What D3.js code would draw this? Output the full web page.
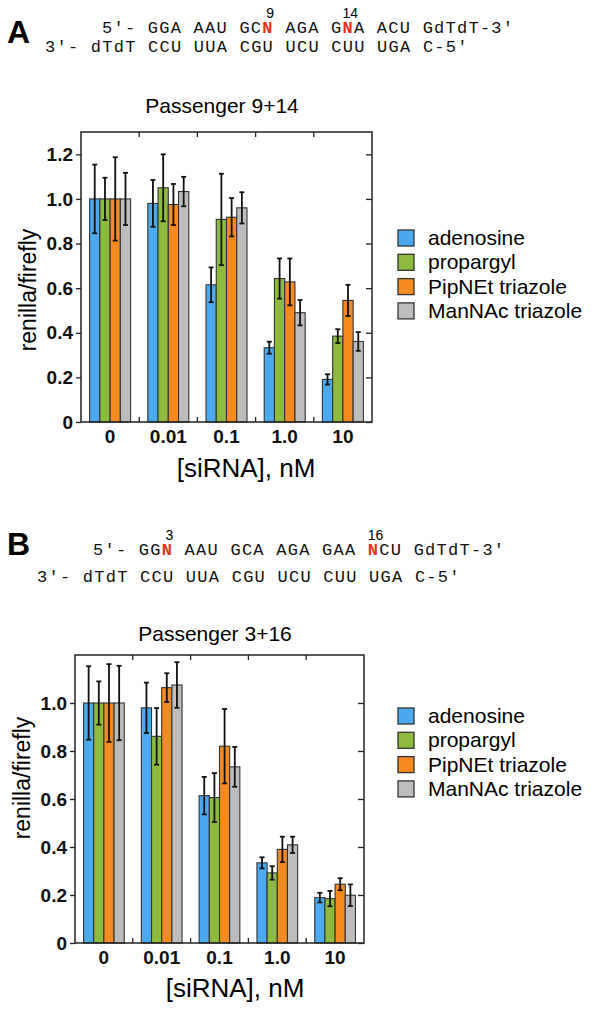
<!DOCTYPE html>
<html><head><meta charset="utf-8">
<script src="https://cdn.jsdelivr.net/npm/d3@7"></script>
<style>body{margin:0;background:#fff}svg{display:block}</style>
</head><body>
<svg id="c" width="596" height="1010"></svg>
<script>
const categories = ["0", "0.01", "0.1", "1.0", "10"];
const series = ["adenosine", "propargyl", "PipNEt triazole", "ManNAc triazole"];
const colors = ["#4ba9ef", "#8dbb3d", "#f58a20", "#bdbdbd"];

// Panel A: Passenger 9+14 (values per series, per category)
const valuesA = [
  [1.00, 0.98, 0.615, 0.333, 0.191],
  [1.00, 1.05, 0.908, 0.643, 0.385],
  [1.00, 0.975, 0.918, 0.628, 0.545],
  [1.00, 1.033, 0.960, 0.490, 0.361]
];
const errorsA = [
  [0.154, 0.105, 0.078, 0.027, 0.023],
  [0.095, 0.150, 0.205, 0.090, 0.031],
  [0.187, 0.092, 0.086, 0.105, 0.070],
  [0.117, 0.066, 0.070, 0.057, 0.042]
];
// Panel B: Passenger 3+16
const valuesB = [
  [1.00, 0.980, 0.614, 0.334, 0.189],
  [1.00, 0.861, 0.606, 0.292, 0.185],
  [1.00, 1.064, 0.820, 0.390, 0.245],
  [1.00, 1.075, 0.734, 0.409, 0.199]
];
const errorsB = [
  [0.153, 0.105, 0.078, 0.023, 0.020],
  [0.090, 0.118, 0.102, 0.028, 0.032],
  [0.162, 0.060, 0.155, 0.053, 0.025],
  [0.155, 0.095, 0.083, 0.034, 0.045]
];
const yTicksA = [0, 0.2, 0.4, 0.6, 0.8, 1.0, 1.2];
const yTicksB = [0, 0.2, 0.4, 0.6, 0.8, 1.0];

const svg = d3.select("#c");
const SANS = "'Liberation Sans', Arial, sans-serif";
const MONO = "'Liberation Mono', 'Courier New', monospace";
const CW = 11.45; // monospace advance per character

function seqLine(g, x, y, parts) {
  const t = g.append("text").attr("x", x).attr("y", y)
    .attr("font-family", MONO).attr("font-size", 17).attr("letter-spacing", CW - 17 * 0.6)
    .attr("fill", "#111").attr("xml:space", "preserve").style("white-space", "pre");
  parts.forEach(p => {
    const ts = t.append("tspan").text(p.t);
    if (p.red) ts.attr("fill", "#e5321d").attr("font-weight", "bold");
  });
  return t;
}

function drawPanel(o) {
  const g = svg.append("g");
  // panel letter
  g.append("text").attr("x", o.letterX).attr("y", o.letterY).text(o.letter)
    .attr("font-family", SANS).attr("font-weight", "bold").attr("font-size", 32);
  // sequences
  seqLine(g, o.seq1X, o.seq1Y, o.seq1);
  seqLine(g, o.seq2X, o.seq2Y, o.seq2);
  o.marks.forEach(m => {
    g.append("text").attr("x", o.seq1X + (m.idx + 0.5) * CW + 2).attr("y", o.seq1Y - 15)
      .attr("text-anchor", "middle").attr("font-family", SANS).attr("font-size", 14)
      .text(m.label);
  });
  const {L, T, R, B} = o.frame;
  const x = d3.scaleBand().domain(categories).range([L, R]).padding(0);
  const xs = d3.scaleBand().domain(series).range([0, x.bandwidth()]).paddingInner(0).paddingOuter(0.84);
  const y = d3.scaleLinear().domain(o.yDomain).range([B, T]);

  // title
  g.append("text").attr("x", o.titleX).attr("y", o.titleY).attr("text-anchor", "middle")
    .attr("font-family", SANS).attr("font-size", 21).text(o.title);

  // bars
  series.forEach((s, si) => {
    categories.forEach((c, ci) => {
      const v = o.values[si][ci];
      g.append("rect")
        .attr("x", x(c) + xs(s)).attr("y", y(v))
        .attr("width", xs.bandwidth()).attr("height", y(0) - y(v))
        .attr("fill", colors[si]).attr("stroke", "#333").attr("stroke-width", 1.1);
    });
  });
  // error bars
  series.forEach((s, si) => {
    categories.forEach((c, ci) => {
      const v = o.values[si][ci], e = o.errors[si][ci];
      const cx = x(c) + xs(s) + xs.bandwidth() / 2;
      const eg = g.append("g").attr("stroke", "#111").attr("stroke-width", 1.8);
      eg.append("line").attr("x1", cx).attr("x2", cx).attr("y1", y(v - e)).attr("y2", y(v + e));
      eg.append("line").attr("x1", cx - 2.5).attr("x2", cx + 2.5).attr("y1", y(v + e)).attr("y2", y(v + e));
      eg.append("line").attr("x1", cx - 2.5).attr("x2", cx + 2.5).attr("y1", y(v - e)).attr("y2", y(v - e));
    });
  });

  // frame
  g.append("rect").attr("x", L).attr("y", T).attr("width", R - L).attr("height", B - T)
    .attr("fill", "none").attr("stroke", "#222").attr("stroke-width", 1.5);

  // left axis (outward ticks)
  const ya = g.append("g").attr("transform", `translate(${L},0)`)
    .call(d3.axisLeft(y).tickValues(o.yTicks).tickSize(5).tickPadding(3)
      .tickFormat(d => d === 0 ? "0" : d3.format(".1f")(d)));
  ya.select(".domain").remove();
  ya.selectAll("line").attr("stroke", "#222").attr("stroke-width", 1.3);
  ya.selectAll("text").attr("font-family", SANS).attr("font-weight", "bold").attr("font-size", 19).attr("fill", "#111");
  // right axis (inward ticks)
  const yr = g.append("g").attr("transform", `translate(${R},0)`)
    .call(d3.axisLeft(y).tickValues(o.yTicks).tickSize(6).tickFormat(""));
  yr.select(".domain").remove();
  yr.selectAll("line").attr("stroke", "#222").attr("stroke-width", 1.3).attr("x2", -6).attr("x1", 0);

  // group boundary ticks, top & bottom, inward
  const bounds = categories.slice(1).map(c => x(c));
  bounds.forEach(bx => {
    g.append("line").attr("x1", bx).attr("x2", bx).attr("y1", T).attr("y2", T + 5).attr("stroke", "#222").attr("stroke-width", 1.3);
    g.append("line").attr("x1", bx).attr("x2", bx).attr("y1", B).attr("y2", B - 5).attr("stroke", "#222").attr("stroke-width", 1.3);
  });
  // bottom axis labels
  const xa = g.append("g").attr("transform", `translate(0,${B})`)
    .call(d3.axisBottom(x).tickSize(0).tickPadding(o.xPad));
  xa.select(".domain").remove();
  xa.selectAll("text").attr("font-family", SANS).attr("font-weight", "bold").attr("font-size", 19).attr("fill", "#111");

  // axis titles
  g.append("text").attr("x", o.xTitleX).attr("y", o.xTitleY).attr("text-anchor", "middle")
    .attr("font-family", SANS).attr("font-size", 26).text("[siRNA], nM");
  g.append("text").attr("transform", `translate(${o.yTitleX},${o.yTitleY}) rotate(-90)`)
    .attr("text-anchor", "middle").attr("font-family", SANS).attr("font-size", 23).text("renilla/firefly");

  // legend
  series.forEach((s, si) => {
    const ly = o.legY + si * 24.3;
    g.append("rect").attr("x", o.legX).attr("y", ly - 8).attr("width", 16).attr("height", 16)
      .attr("fill", colors[si]).attr("stroke", "#333").attr("stroke-width", 1.3);
    g.append("text").attr("x", o.legX + 30).attr("y", ly + 7).attr("font-family", SANS)
      .attr("font-size", 21).text(s);
  });
}

drawPanel({
  letter: "A", letterX: 7, letterY: 43,
  seq1X: 102, seq1Y: 33,
  seq1: [{t:"5'- GGA AAU GC"},{t:"N",red:true},{t:" AGA G"},{t:"N",red:true},{t:"A ACU GdTdT-3'"}],
  seq2X: 45, seq2Y: 52,
  seq2: [{t:"3'- dTdT CCU UUA CGU UCU CUU UGA C-5'"}],
  marks: [{idx:14, label:"9"}, {idx:21, label:"14"}],
  frame: {L: 81, T: 132, R: 372, B: 422},
  yDomain: [0, 1.3], yTicks: yTicksA,
  values: valuesA, errors: errorsA,
  title: "Passenger 9+14", titleX: 222, titleY: 113,
  xPad: 8, xTitleX: 246, xTitleY: 477, yTitleX: 36, yTitleY: 290,
  legX: 398, legY: 238
});
drawPanel({
  letter: "B", letterX: 7, letterY: 555,
  seq1X: 93, seq1Y: 555,
  seq1: [{t:"5'- GG"},{t:"N",red:true},{t:" AAU GCA AGA GAA "},{t:"N",red:true},{t:"CU GdTdT-3'"}],
  seq2X: 37, seq2Y: 582,
  seq2: [{t:"3'- dTdT CCU UUA CGU UCU CUU UGA C-5'"}],
  marks: [{idx:6, label:"3"}, {idx:24, label:"16"}],
  frame: {L: 75, T: 655, R: 364, B: 943},
  yDomain: [0, 1.2], yTicks: yTicksB,
  values: valuesB, errors: errorsB,
  title: "Passenger 3+16", titleX: 215, titleY: 641,
  xPad: 8, xTitleX: 235, xTitleY: 997, yTitleX: 30, yTitleY: 778,
  legX: 398, legY: 716
});
</script>
</body></html>
